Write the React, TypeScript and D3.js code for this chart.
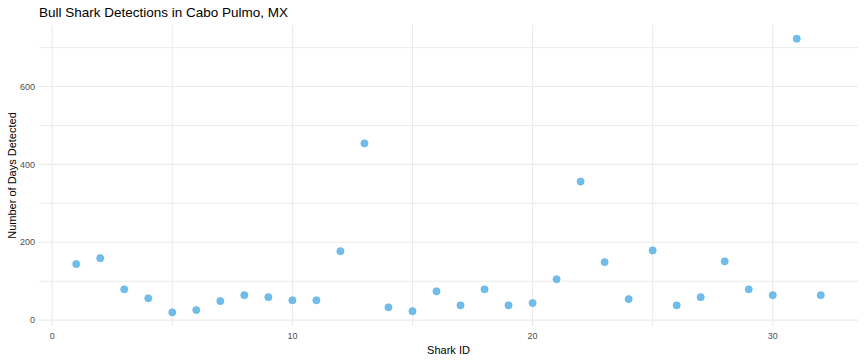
import React, { useEffect, useRef } from 'react';
import * as d3 from 'd3';

// Bull shark detections, days detected per shark ID
const sharkIds = d3.range(1, 33);
const daysDetected = [
  144, 159, 79, 56, 20, 26, 49, 64, 59, 51, 51, 177, 454, 33, 23, 74,
  38, 79, 38, 44, 105, 356, 149, 54, 179, 38, 59, 151, 79, 64, 723, 64,
];
const xTicks = [0, 10, 20, 30];
const yTicks = [0, 200, 400, 600];

const App = () => {
  const svgRef = useRef<SVGSVGElement>(null);

  useEffect(() => {
    const width = 864;
    const height = 360;
    const margin = { top: 25, right: 6, bottom: 34, left: 39 };

    const svg = d3.select(svgRef.current);
    svg.selectAll('*').remove();

    const data = sharkIds.map((id, i) => ({ id, days: daysDetected[i] }));

    // ggplot style 5% expansion
    const [x0, x1] = d3.extent(sharkIds) as [number, number];
    const [y0, y1] = d3.extent(daysDetected) as [number, number];
    const xPad = (x1 - x0) * 0.05;
    const yPad = (y1 - y0) * 0.05;

    const xScale = d3
      .scaleLinear()
      .domain([x0 - xPad, x1 + xPad])
      .range([margin.left, width - margin.right]);

    const yScale = d3
      .scaleLinear()
      .domain([y0 - yPad, y1 + yPad])
      .range([height - margin.bottom, margin.top]);

    const grid = svg.append('g');
    const minorX = [5, 15, 25];
    const minorY = [100, 300, 500, 700];

    grid.selectAll('.vminor')
      .data(minorX)
      .enter()
      .append('line')
      .attr('x1', d => xScale(d))
      .attr('x2', d => xScale(d))
      .attr('y1', margin.top)
      .attr('y2', height - margin.bottom)
      .attr('stroke', '#ebebeb')
      .attr('stroke-width', 1);

    grid.selectAll('.hminor')
      .data(minorY)
      .enter()
      .append('line')
      .attr('x1', margin.left)
      .attr('x2', width - margin.right)
      .attr('y1', d => yScale(d))
      .attr('y2', d => yScale(d))
      .attr('stroke', '#ebebeb')
      .attr('stroke-width', 1);

    grid.selectAll('.vmajor')
      .data(xTicks)
      .enter()
      .append('line')
      .attr('x1', d => xScale(d))
      .attr('x2', d => xScale(d))
      .attr('y1', margin.top)
      .attr('y2', height - margin.bottom)
      .attr('stroke', '#ebebeb')
      .attr('stroke-width', 1.1);

    grid.selectAll('.hmajor')
      .data(yTicks)
      .enter()
      .append('line')
      .attr('x1', margin.left)
      .attr('x2', width - margin.right)
      .attr('y1', d => yScale(d))
      .attr('y2', d => yScale(d))
      .attr('stroke', '#ebebeb')
      .attr('stroke-width', 1.1);

    // Draw points
    svg.selectAll('circle')
      .data(data)
      .enter()
      .append('circle')
      .attr('cx', d => xScale(d.id))
      .attr('cy', d => yScale(d.days))
      .attr('r', 3.6)
      .attr('fill', '#70bdec')
      .attr('stroke', '#5eb0e4')
      .attr('stroke-width', 0.6);

    // Tick labels
    svg.append('g')
      .selectAll('text')
      .data(xTicks)
      .enter()
      .append('text')
      .attr('x', d => xScale(d))
      .attr('y', height - margin.bottom + 13)
      .attr('text-anchor', 'middle')
      .attr('font-size', 9)
      .attr('fill', '#4d4d4d')
      .text(d => d);

    svg.append('g')
      .selectAll('text')
      .data(yTicks)
      .enter()
      .append('text')
      .attr('x', margin.left - 4)
      .attr('y', d => yScale(d))
      .attr('dy', '0.35em')
      .attr('text-anchor', 'end')
      .attr('font-size', 9)
      .attr('fill', '#4d4d4d')
      .text(d => d);

    // Axis titles
    svg.append('text')
      .attr('x', (margin.left + width - margin.right) / 2)
      .attr('y', height - 6)
      .attr('text-anchor', 'middle')
      .attr('font-size', 11)
      .attr('fill', '#000')
      .text('Shark ID');

    svg.append('text')
      .attr('transform', `translate(16, ${(margin.top + height - margin.bottom) / 2}) rotate(-90)`)
      .attr('text-anchor', 'middle')
      .attr('font-size', 11)
      .attr('fill', '#000')
      .text('Number of Days Detected');

    // Title
    svg.append('text')
      .attr('x', margin.left)
      .attr('y', 17)
      .attr('font-size', 13.5)
      .attr('fill', '#000')
      .text('Bull Shark Detections in Cabo Pulmo, MX');
  }, []);

  return (
    <svg
      ref={svgRef}
      width="864"
      height="360"
      style={{ position: 'absolute', left: 0, top: 0, fontFamily: 'Liberation Sans, Arial, sans-serif', background: '#fff' }}
    />
  );
};

export default App;
